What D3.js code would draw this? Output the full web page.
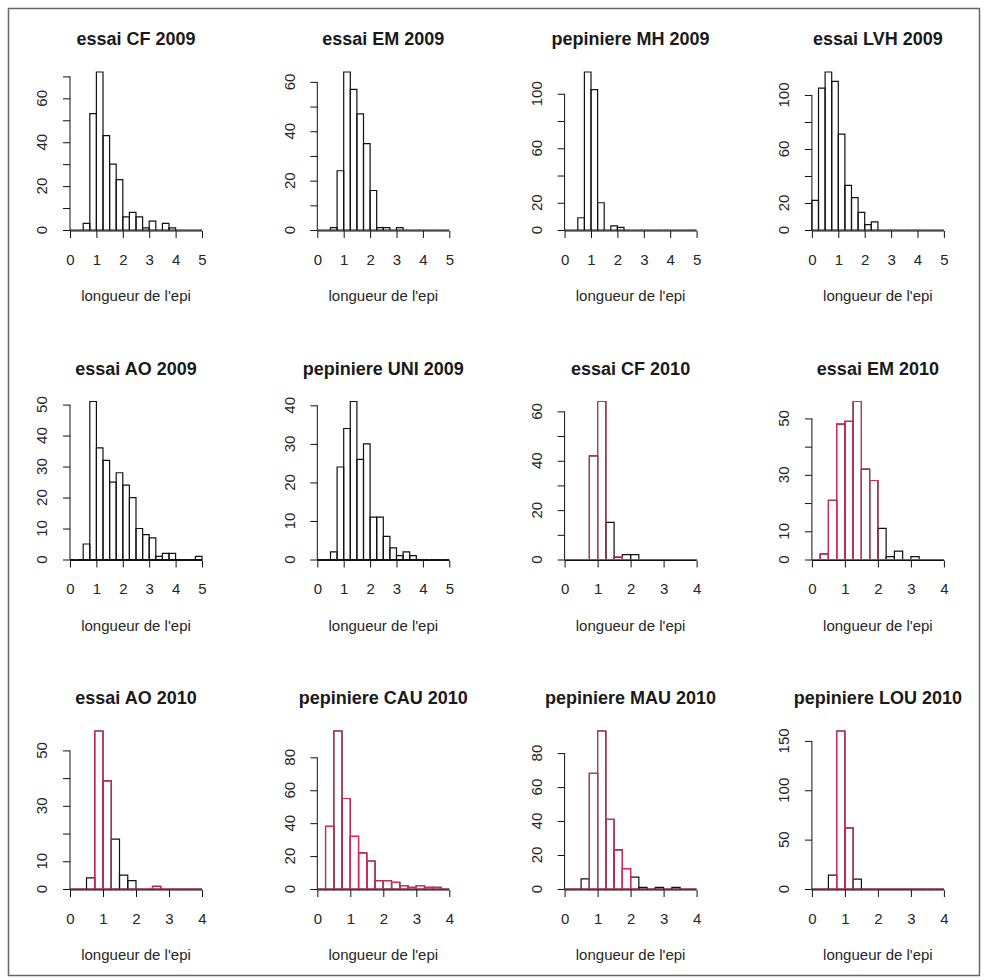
<!DOCTYPE html>
<meta charset="utf-8">
<style>

body {
  margin: 0;
  background: #fff;
}

text {
  font-family: "Liberation Sans", Arial, sans-serif;
  fill: #262626;
}

.title {
  font-size: 18px;
  font-weight: bold;
  text-anchor: middle;
  fill: #1a1a1a;
}

.xlab {
  font-size: 15px;
  text-anchor: middle;
}

.axis text {
  font-size: 15px;
}

.axis line,
.axis-line {
  stroke: #111;
  stroke-width: 1px;
}

.bar {
  fill: none;
  stroke: #111;
  stroke-width: 1.2px;
}

.bar--red {
  stroke: #d8285a;
}

</style>
<svg width="987" height="980"></svg>
<script src="https://d3js.org/d3.v7.min.js"></script>
<script>

// counts per bin of 0.25, starting at 0
var titles = ["essai CF 2009", "essai EM 2009", "pepiniere MH 2009", "essai LVH 2009",
              "essai AO 2009", "pepiniere UNI 2009", "essai CF 2010", "essai EM 2010",
              "essai AO 2010", "pepiniere CAU 2010", "pepiniere MAU 2010", "pepiniere LOU 2010"];

var cf2009  = [0, 0, 3, 53, 72, 43, 30, 23, 6, 8, 6, 1, 4, 0, 3, 1, 0, 0, 0, 0];
var em2009  = [0, 0, 1, 24, 64, 57, 47, 35, 16, 1, 1, 0, 1, 0, 0, 0, 0, 0, 0, 0];
var mh2009  = [0, 0, 9, 116, 103, 20, 0, 3, 2, 0, 0, 0, 0, 0, 0, 0, 0, 0, 0, 0];
var lvh2009 = [22, 105, 117, 110, 71, 33, 24, 13, 4, 6, 0, 0, 0, 0, 0, 0, 0, 0, 0, 0];
var ao2009  = [0, 0, 5, 51, 36, 32, 25, 28, 24, 20, 10, 8, 7, 1, 2, 2, 0, 0, 0, 1];
var uni2009 = [0, 0, 2, 24, 34, 41, 26, 30, 11, 11, 6, 3, 1, 2, 1, 0, 0, 0, 0, 0];

var cf2010  = [0, 0, 0, 42, 64, 15, 1, 2, 2, 0, 0, 0, 0, 0, 0, 0];
var em2010  = [0, 2, 21, 48, 49, 56, 32, 28, 11, 1, 3, 0, 1, 0, 0, 0];
var ao2010  = [0, 0, 4, 57, 39, 18, 5, 3, 0, 0, 1, 0, 0, 0, 0, 0];
var cau2010 = [0, 38, 96, 55, 32, 22, 17, 5, 5, 4, 2, 1, 2, 1, 1, 0];
var mau2010 = [0, 0, 6, 68, 93, 41, 23, 12, 7, 1, 0, 1, 0, 1, 0, 0];
var lou2010 = [0, 0, 14, 160, 62, 10, 0, 0, 0, 0, 0, 0, 0, 0, 0, 0];

// red overlay (second histogram) on the 2010 panels
var cf2010red  = [0, 0, 0, 42, 64, 0, 1, 0, 0, 0, 0, 0, 0, 0, 0, 0];
var em2010red  = [0, 2, 21, 48, 49, 56, 32, 28, 0, 0, 0, 0, 0, 0, 0, 0];
var ao2010red  = [0, 0, 0, 57, 39, 0, 0, 0, 0, 0, 1, 0, 0, 0, 0, 0];
var cau2010red = [0, 38, 96, 55, 32, 22, 17, 5, 5, 4, 2, 1, 2, 1, 1, 0];
var mau2010red = [0, 0, 0, 68, 93, 41, 23, 12, 0, 0, 0, 0, 0, 0, 0, 0];
var lou2010red = [0, 0, 0, 160, 62, 0, 0, 0, 0, 0, 0, 0, 0, 0, 0, 0];

var counts = [cf2009, em2009, mh2009, lvh2009, ao2009, uni2009,
              cf2010, em2010, ao2010, cau2010, mau2010, lou2010];
var redCounts = [null, null, null, null, null, null,
                 cf2010red, em2010red, ao2010red, cau2010red, mau2010red, lou2010red];

var xTicks5 = [0, 1, 2, 3, 4, 5],
    xTicks4 = [0, 1, 2, 3, 4];

var yTicks = [
  [0, 10, 20, 30, 40, 50, 60, 70],
  [0, 10, 20, 30, 40, 50, 60],
  [0, 20, 40, 60, 80, 100],
  [0, 20, 40, 60, 80, 100],
  [0, 10, 20, 30, 40, 50],
  [0, 10, 20, 30, 40],
  [0, 10, 20, 30, 40, 50, 60],
  [0, 10, 20, 30, 40, 50],
  [0, 10, 20, 30, 40, 50],
  [0, 20, 40, 60, 80],
  [0, 20, 40, 60, 80],
  [0, 50, 100, 150]
];
var yLabels = [
  [0, 20, 40, 60],
  [0, 20, 40, 60],
  [0, 20, 60, 100],
  [0, 20, 60, 100],
  [0, 10, 20, 30, 40, 50],
  [0, 10, 20, 30, 40],
  [0, 20, 40, 60],
  [0, 10, 30, 50],
  [0, 10, 30, 50],
  [0, 20, 40, 60, 80],
  [0, 20, 40, 60, 80],
  [0, 50, 100, 150]
];

var xlab = "longueur de l'epi",
    binWidth = 0.25;

var svg = d3.select("svg"),
    width = 132,
    height = 158;

svg.append("rect")
    .attr("x", 8.5)
    .attr("y", 8.5)
    .attr("width", 971)
    .attr("height", 967)
    .attr("fill", "#fff")
    .attr("stroke", "#666")
    .attr("stroke-width", 1.5);

function barPath(x, y) {
  return function(d, i) {
    var x0 = x(i * binWidth), x1 = x((i + 1) * binWidth);
    return "M" + x0 + "," + y(0) + "V" + y(d) + "H" + x1 + "V" + y(0) + "Z";
  };
}

counts.forEach(function(data, k) {
  var col = k % 4,
      row = Math.floor(k / 4),
      left = 70 + col * 247.3,
      base = 230 + row * 329.5,
      xt = data.length === 20 ? xTicks5 : xTicks4;

  var g = svg.append("g")
      .attr("transform", "translate(" + left + "," + (base - height) + ")");

  var x = d3.scaleLinear()
      .domain([0, data.length * binWidth])
      .range([0, width]);

  var y = d3.scaleLinear()
      .domain([0, d3.max(data)])
      .range([height, 0]);

  g.selectAll(".bar--black")
      .data(data)
    .enter().append("path")
      .attr("class", "bar")
      .attr("d", barPath(x, y));

  if (redCounts[k]) {
    g.selectAll(".bar--red")
        .data(redCounts[k])
      .enter().append("path")
        .attr("class", "bar bar--red")
        .attr("d", barPath(x, y));
  }

  // x axis
  var ax = g.append("g")
      .attr("class", "axis")
      .attr("transform", "translate(0," + (height + 1) + ")")
      .call(d3.axisBottom(x).tickValues(xt).tickFormat(d3.format("d"))
        .tickSize(7).tickPadding(16).tickSizeOuter(0));
  ax.select(".domain").remove();
  ax.append("line")
      .attr("class", "axis-line")
      .attr("x1", x(0))
      .attr("x2", x(xt[xt.length - 1]));

  // y axis
  var yt = yTicks[k], yl = yLabels[k];
  var ay = g.append("g")
      .attr("class", "axis")
      .call(d3.axisLeft(y).tickValues(yt).tickSize(7).tickFormat(""));
  ay.select(".domain").remove();
  ay.append("line")
      .attr("class", "axis-line")
      .attr("y1", y(0))
      .attr("y2", y(yt[yt.length - 1]));
  ay.selectAll(".ylab")
      .data(yl)
    .enter().append("text")
      .attr("class", "ylab")
      .attr("text-anchor", "middle")
      .attr("transform", function(d) { return "translate(-22.6," + y(d) + ") rotate(-90)"; })
      .text(function(d) { return d; });

  g.append("text")
      .attr("class", "title")
      .attr("x", width / 2)
      .attr("y", -27)
      .text(titles[k]);

  g.append("text")
      .attr("class", "xlab")
      .attr("x", width / 2)
      .attr("y", height + 71)
      .text(xlab);
});

</script>
